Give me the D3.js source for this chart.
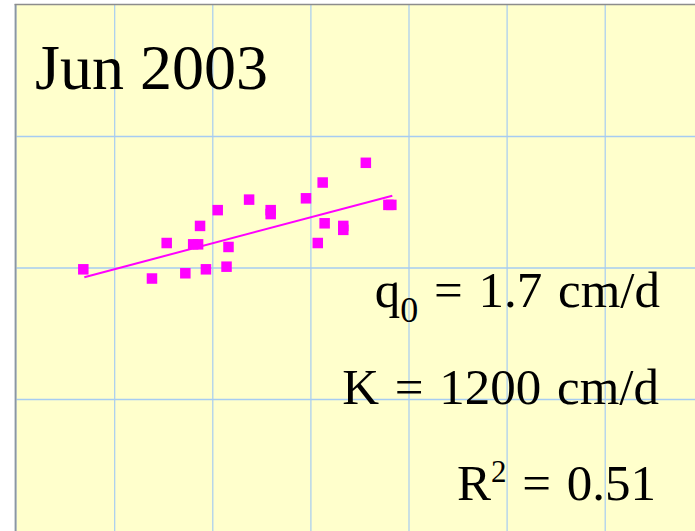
<!DOCTYPE html>
<html>
<head>
<meta charset="utf-8">
<script src="https://cdn.jsdelivr.net/npm/d3@7"></script>
<style>
	body { margin: 0; background: #fff; }
	svg { display: block; }
	text { font-family: "Liberation Serif", "Times New Roman", serif; fill: #000; }
</style>
</head>
<body>
<div id="chart"></div>
<script>
const obsX = [0.68, 1.38, 1.53, 1.72, 1.80, 1.85, 1.87, 1.93, 2.05, 2.14, 2.16, 2.37, 2.59, 2.59, 2.95, 3.07, 3.12, 3.14, 3.33, 3.33, 3.56, 3.79, 3.82]
const obsY = [1.99, 1.92, 2.19, 1.96, 2.18, 2.18, 2.32, 1.99, 2.44, 2.01, 2.16, 2.52, 2.44, 2.41, 2.53, 2.19, 2.65, 2.34, 2.32, 2.29, 2.80, 2.48, 2.48]

// fitted line ends
const fitX = [0.69, 3.83]
const fitY = [1.93, 2.55]

// grid positions
const xGrid = [1, 2, 3, 4, 5, 6]
const yGrid = [1, 2, 3]

const title = 'Jun 2003'

var width = 695
var height = 531

var svg = d3.select('#chart').append('svg')
	.attr('width', width)
	.attr('height', height)

var x = d3.scaleLinear().domain([0, 7]).range([16.6, 16.6 + 98.1 * 7])
var y = d3.scaleLinear().domain([0, 4]).range([531, 5])

// plot background
svg.append('rect')
	.attr('x', x(0)).attr('y', y(4))
	.attr('width', width - x(0)).attr('height', height - y(4))
	.attr('fill', '#ffffcc')

// grid lines
svg.selectAll('.vgrid')
	.data(xGrid)
	.join('line')
		.attr('class', 'vgrid')
		.attr('x1', d => x(d)).attr('x2', d => x(d))
		.attr('y1', y(4)).attr('y2', height)
		.attr('stroke', '#a6ccf2')
		.attr('stroke-width', 1.2)

svg.selectAll('.hgrid')
	.data(yGrid)
	.join('line')
		.attr('class', 'hgrid')
		.attr('x1', x(0)).attr('x2', width)
		.attr('y1', d => y(d)).attr('y2', d => y(d))
		.attr('stroke', '#a6ccf2')
		.attr('stroke-width', 1.6)

// frame: left and top edges
svg.append('line')
	.attr('x1', x(0) - 1).attr('x2', x(0) - 1)
	.attr('y1', y(4) - 1).attr('y2', height)
	.attr('stroke', '#8a97a3').attr('stroke-width', 2)
svg.append('line')
	.attr('x1', x(0) - 2).attr('x2', width)
	.attr('y1', y(4) - 0.5).attr('y2', y(4) - 0.5)
	.attr('stroke', '#8c8c8c').attr('stroke-width', 1.5)

// fit line
svg.append('line')
	.attr('x1', x(fitX[0])).attr('y1', y(fitY[0]))
	.attr('x2', x(fitX[1])).attr('y2', y(fitY[1]))
	.attr('stroke', '#ff00ff')
	.attr('stroke-width', 2)

// points
var sz = 10.5
svg.selectAll('.pt')
	.data(d3.range(obsX.length))
	.join('rect')
		.attr('class', 'pt')
		.attr('x', i => x(obsX[i]) - sz / 2)
		.attr('y', i => y(obsY[i]) - sz / 2)
		.attr('width', sz).attr('height', sz)
		.attr('fill', '#ff00ff')

// title
svg.append('text')
	.attr('x', 35).attr('y', 89)
	.style('font-size', '64px')
	.text(title)

// stats block, right aligned
var rx = 659
var stat = function(yy, xx) {
	return svg.append('text')
		.attr('x', xx).attr('y', yy)
		.attr('text-anchor', 'end')
		.style('font-size', '51px')
		.style('word-spacing', '3px')
}

var t1 = stat(306.5, rx + 1)
t1.append('tspan').text('q')
t1.append('tspan').attr('dy', 15).style('font-size', '36px').text('0')
t1.append('tspan').attr('dy', -15).text(' = 1.7 cm/d')

stat(403.5, rx).text('K = 1200 cm/d')

var t3 = stat(499.5, rx - 3)
t3.append('tspan').text('R')
t3.append('tspan').attr('dy', -18).style('font-size', '31px').text('2')
t3.append('tspan').attr('dy', 18).text(' = 0.51')
</script>
</body>
</html>
